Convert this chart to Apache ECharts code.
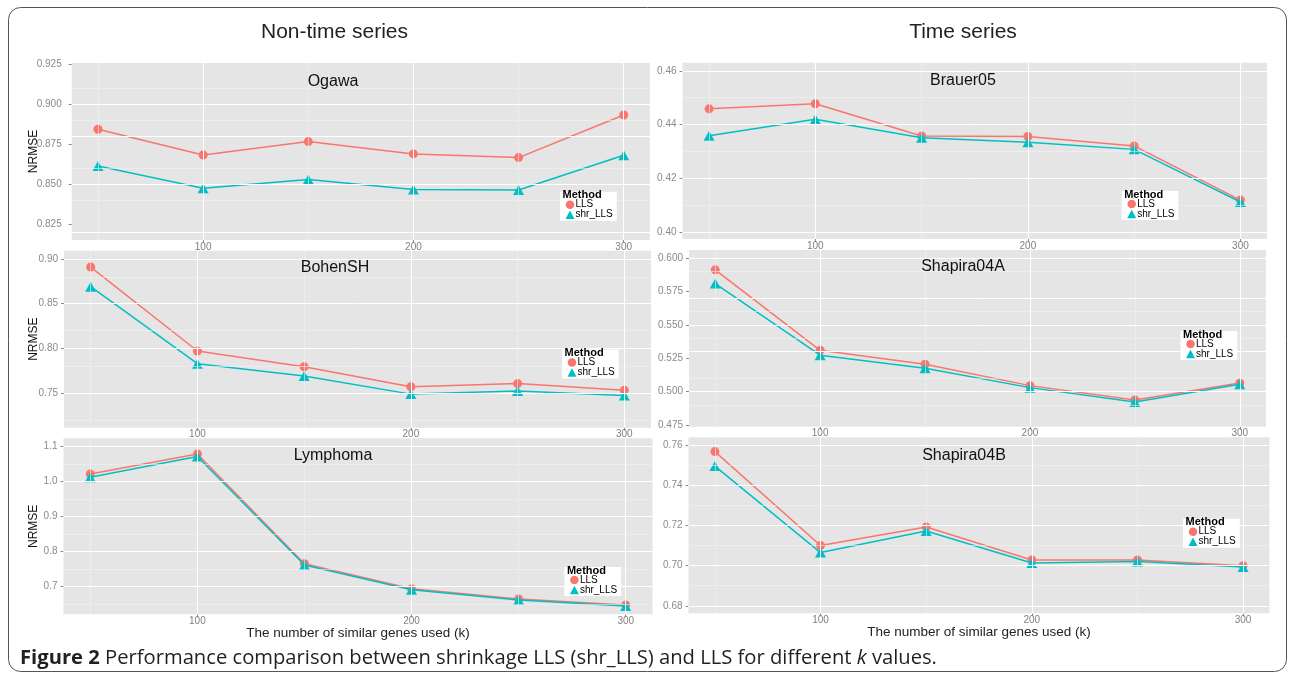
<!DOCTYPE html>
<html>
<head>
<meta charset="utf-8">
<script src="https://cdn.jsdelivr.net/npm/echarts@6/dist/echarts.min.js"></script>
<style>
html,body{margin:0;padding:0;background:#fff;}
#chart{width:1292px;height:679px;}
</style>
</head>
<body>
<div id="chart"></div>
<script>
// ---------- data ----------
const kValues = [50, 100, 150, 200, 250, 300];
const xTicks = [100, 200, 300];
const xMinorTicks = [50, 150, 250];
const seriesNames = ['LLS', 'shr_LLS'];
const columnTitles = ['Non-time series', 'Time series'];
const panelTitles = ['Ogawa', 'Brauer05', 'BohenSH', 'Shapira04A', 'Lymphoma', 'Shapira04B'];

const ogawaLLS = [0.8842, 0.8681, 0.8765, 0.8688, 0.8665, 0.8931];
const ogawaShr = [0.8612, 0.8474, 0.8528, 0.8466, 0.8462, 0.8680];
const ogawaTicks = [0.825, 0.850, 0.875, 0.900, 0.925];
const ogawaMinor = [0.8375, 0.8625, 0.8875, 0.9125];

const brauerLLS = [0.4458, 0.4477, 0.4357, 0.4355, 0.4320, 0.4118];
const brauerShr = [0.4358, 0.4419, 0.4350, 0.4334, 0.4307, 0.4111];
const brauerTicks = [0.40, 0.42, 0.44, 0.46];
const brauerMinor = [0.41, 0.43, 0.45];

const bohenLLS = [0.8910, 0.7970, 0.7794, 0.7569, 0.7605, 0.7530];
const bohenShr = [0.8690, 0.7828, 0.7689, 0.7487, 0.7523, 0.7472];
const bohenTicks = [0.75, 0.80, 0.85, 0.90];
const bohenMinor = [0.725, 0.775, 0.825, 0.875];

const shapiraALLS = [0.5913, 0.5310, 0.5205, 0.5045, 0.4938, 0.5065];
const shapiraAShr = [0.5810, 0.5273, 0.5175, 0.5030, 0.4923, 0.5055];
const shapiraATicks = [0.475, 0.500, 0.525, 0.550, 0.575, 0.600];
const shapiraAMinor = [0.4875, 0.5125, 0.5375, 0.5625, 0.5875];

const lymphomaLLS = [1.0220, 1.0794, 0.7656, 0.6938, 0.6650, 0.6478];
const lymphomaShr = [1.0124, 1.0718, 0.7617, 0.6910, 0.6622, 0.6450];
const lymphomaTicks = [0.7, 0.8, 0.9, 1.0, 1.1];
const lymphomaMinor = [0.65, 0.75, 0.85, 0.95, 1.05];

const shapiraBLLS = [0.7567, 0.7100, 0.7192, 0.7028, 0.7028, 0.7000];
const shapiraBShr = [0.7495, 0.7065, 0.7172, 0.7013, 0.7020, 0.6993];
const shapiraBTicks = [0.68, 0.70, 0.72, 0.74, 0.76];
const shapiraBMinor = [0.69, 0.71, 0.73, 0.75];

const yRanges = [[0.815, 0.9256], [0.3973, 0.4630], [0.7111, 0.9093], [0.4737, 0.6062], [0.621, 1.124], [0.6763, 0.7638]];
const xRange = [37.5, 312.5];
const xAxisTitle = 'The number of similar genes used (k)';
const yAxisTitle = 'NRMSE';
const methodTitle = 'Method';
const captionBold = 'Figure 2';
const captionText = ' Performance comparison between shrinkage LLS (shr_LLS) and LLS for different ';
const captionItalic = 'k';
const captionEnd = ' values.';

// ---------- layout ----------
const panelData = [
  {lls: ogawaLLS, shr: ogawaShr, ticks: ogawaTicks, minor: ogawaMinor},
  {lls: brauerLLS, shr: brauerShr, ticks: brauerTicks, minor: brauerMinor},
  {lls: bohenLLS, shr: bohenShr, ticks: bohenTicks, minor: bohenMinor},
  {lls: shapiraALLS, shr: shapiraAShr, ticks: shapiraATicks, minor: shapiraAMinor},
  {lls: lymphomaLLS, shr: lymphomaShr, ticks: lymphomaTicks, minor: lymphomaMinor},
  {lls: shapiraBLLS, shr: shapiraBShr, ticks: shapiraBTicks, minor: shapiraBMinor}
];
const gridBoxes = [
  {left: 71.7, top: 63, width: 578.3, height: 177},
  {left: 682.5, top: 62.7, width: 584.5, height: 176.3},
  {left: 64, top: 250.7, width: 587, height: 177},
  {left: 689, top: 250, width: 577, height: 176.7},
  {left: 63.5, top: 438.3, width: 589, height: 176},
  {left: 688.5, top: 437.3, width: 581, height: 176}
];
const titlePos = [[333, 83], [963, 81.5], [335, 269], [963, 268], [333, 457], [964, 457]];
const legendPos = [[560, 191.7], [1121.7, 191], [562, 349.5], [1180.5, 331], [564.4, 567], [1183, 518.7]];
const yLabelMargin = [10, 6, 6, 6, 6, 6];

const RED = '#F8766D', TEAL = '#00BFC4';
const FONT = 'Liberation Sans, Arial, sans-serif';
const NARROW = 'Liberation Sans Narrow, Arial Narrow, Liberation Sans, sans-serif';
const CAPFONT = 'Open Sans, sans-serif';

const grids = [], xAxes = [], yAxes = [], series = [], titles = [], legends = [];

gridBoxes.forEach((g, i) => {
  grids.push({left: g.left, top: g.top, width: g.width, height: g.height, show: true,
    backgroundColor: '#E5E5E5', borderWidth: 0, containLabel: false});
  const isBottom = i >= 4;
  const isLeft = i % 2 === 0;
  xAxes.push({
    gridIndex: i, type: 'value', min: xRange[0], max: xRange[1],
    axisLine: {show: false},
    axisTick: {show: true, length: 3, customValues: xTicks, lineStyle: {color: '#8a8a8a'}},
    axisLabel: {customValues: xTicks, fontSize: 10, color: '#7f7f7f', margin: 2, fontFamily: FONT},
    splitLine: {show: false},
    name: isBottom ? xAxisTitle : '', nameLocation: 'middle', nameGap: 12, nameMoveOverlap: false,
    nameTextStyle: {fontSize: 13.5, color: '#222', fontFamily: FONT}
  });
  const pd = panelData[i];
  yAxes.push({
    gridIndex: i, type: 'value', min: yRanges[i][0], max: yRanges[i][1],
    axisLine: {show: false},
    axisTick: {show: true, length: 3, customValues: pd.ticks, lineStyle: {color: '#8a8a8a'}},
    axisLabel: {customValues: pd.ticks, fontSize: 10, color: '#8a8a8a', margin: yLabelMargin[i], fontFamily: FONT,
      formatter: v => {
        const step = pd.ticks[1] - pd.ticks[0];
        const dec = step < 0.01 ? 3 : (step < 0.1 ? (Math.abs(step - 0.025) < 1e-9 ? 3 : 2) : 1);
        return v.toFixed(dec);
      }},
    splitLine: {show: false},
    name: isLeft ? yAxisTitle : '', nameLocation: 'middle', nameRotate: 90,
    nameGap: g.left - 40, nameMoveOverlap: false,
    nameTextStyle: {fontSize: 12, color: '#111', fontFamily: NARROW}
  });
  // grid lines
  const lines = [];
  xMinorTicks.forEach(v => lines.push({xAxis: v, lineStyle: {color: '#F2F2F2', width: 0.6, type: 'solid'}}));
  pd.minor.forEach(v => lines.push({yAxis: v, lineStyle: {color: '#F2F2F2', width: 0.6, type: 'solid'}}));
  xTicks.forEach(v => lines.push({xAxis: v, lineStyle: {color: '#FFFFFF', width: 1, type: 'solid'}}));
  pd.ticks.forEach(v => lines.push({yAxis: v, lineStyle: {color: '#FFFFFF', width: 1, type: 'solid'}}));
  series.push({
    type: 'line', name: 'grid' + i, xAxisIndex: i, yAxisIndex: i, data: [], z: 1, silent: true,
    markLine: {silent: true, symbol: ['none', 'none'], label: {show: false}, animation: false,
      emphasis: {disabled: true}, data: lines}
  });
  series.push({
    type: 'line', name: seriesNames[0], xAxisIndex: i, yAxisIndex: i, z: 3,
    data: kValues.map((k, j) => [k, pd.lls[j]]),
    symbol: 'circle', symbolSize: 9, itemStyle: {color: RED}, lineStyle: {color: RED, width: 1.5}
  });
  series.push({
    type: 'line', name: seriesNames[1], xAxisIndex: i, yAxisIndex: i, z: 4,
    data: kValues.map((k, j) => [k, pd.shr[j]]),
    symbol: 'triangle', symbolSize: [11, 10], itemStyle: {color: TEAL}, lineStyle: {color: TEAL, width: 1.5}
  });
  titles.push({text: panelTitles[i], left: titlePos[i][0], top: titlePos[i][1] - 9, textAlign: 'center', padding: 0,
    textStyle: {fontSize: 16, fontWeight: 'normal', color: '#111', fontFamily: FONT}});
  titles.push({text: methodTitle, left: legendPos[i][0] + 2.5, top: legendPos[i][1] - 2, padding: 0, z: 30,
    textStyle: {fontSize: 11, fontWeight: 'bold', color: '#000', fontFamily: FONT}});
  legends.push({
    orient: 'vertical', left: legendPos[i][0], top: legendPos[i][1], z: 20,
    itemWidth: 9, itemHeight: 8.5, itemGap: 0, padding: [8, 4, 1, 5.5],
    backgroundColor: '#fff', selectedMode: false,
    textStyle: {fontSize: 10, color: '#000', lineHeight: 8.5, fontFamily: FONT, padding: [0, 0, 0, -4]},
    data: [{name: seriesNames[0], icon: 'circle', itemStyle: {color: RED}},
           {name: seriesNames[1], icon: 'triangle', itemStyle: {color: TEAL}}]
  });
});

titles.push({text: columnTitles[0], left: 334.5, top: 22, textAlign: 'center', padding: 0,
  textStyle: {fontSize: 21, fontWeight: 'normal', color: '#222', fontFamily: FONT}});
titles.push({text: columnTitles[1], left: 963, top: 22, textAlign: 'center', padding: 0,
  textStyle: {fontSize: 21, fontWeight: 'normal', color: '#222', fontFamily: FONT}});

const chart = echarts.init(document.getElementById('chart'), null, {renderer: 'canvas'});
chart.setOption({
  animation: false,
  backgroundColor: '#fff',
  title: titles,
  legend: legends,
  grid: grids,
  xAxis: xAxes,
  yAxis: yAxes,
  series: series,
  graphic: [
    {type: 'rect', shape: {x: 8.5, y: 7.5, width: 1278, height: 664, r: 12}, silent: true, z: -1,
      style: {fill: 'none', stroke: '#555', lineWidth: 1}},
    {type: 'text', left: 20, top: 648, silent: true,
      style: {
        text: '{b|' + captionBold + '}{n|' + captionText + '}{i|' + captionItalic + '}{n|' + captionEnd + '}',
        rich: {
          b: {fontSize: 20.2, fontWeight: 'bold', fontFamily: CAPFONT, fill: '#231f20'},
          n: {fontSize: 20.2, fontFamily: CAPFONT, fill: '#231f20'},
          i: {fontSize: 20.2, fontStyle: 'italic', fontFamily: CAPFONT, fill: '#231f20'}
        }
      }}
  ]
});
</script>
</body>
</html>
